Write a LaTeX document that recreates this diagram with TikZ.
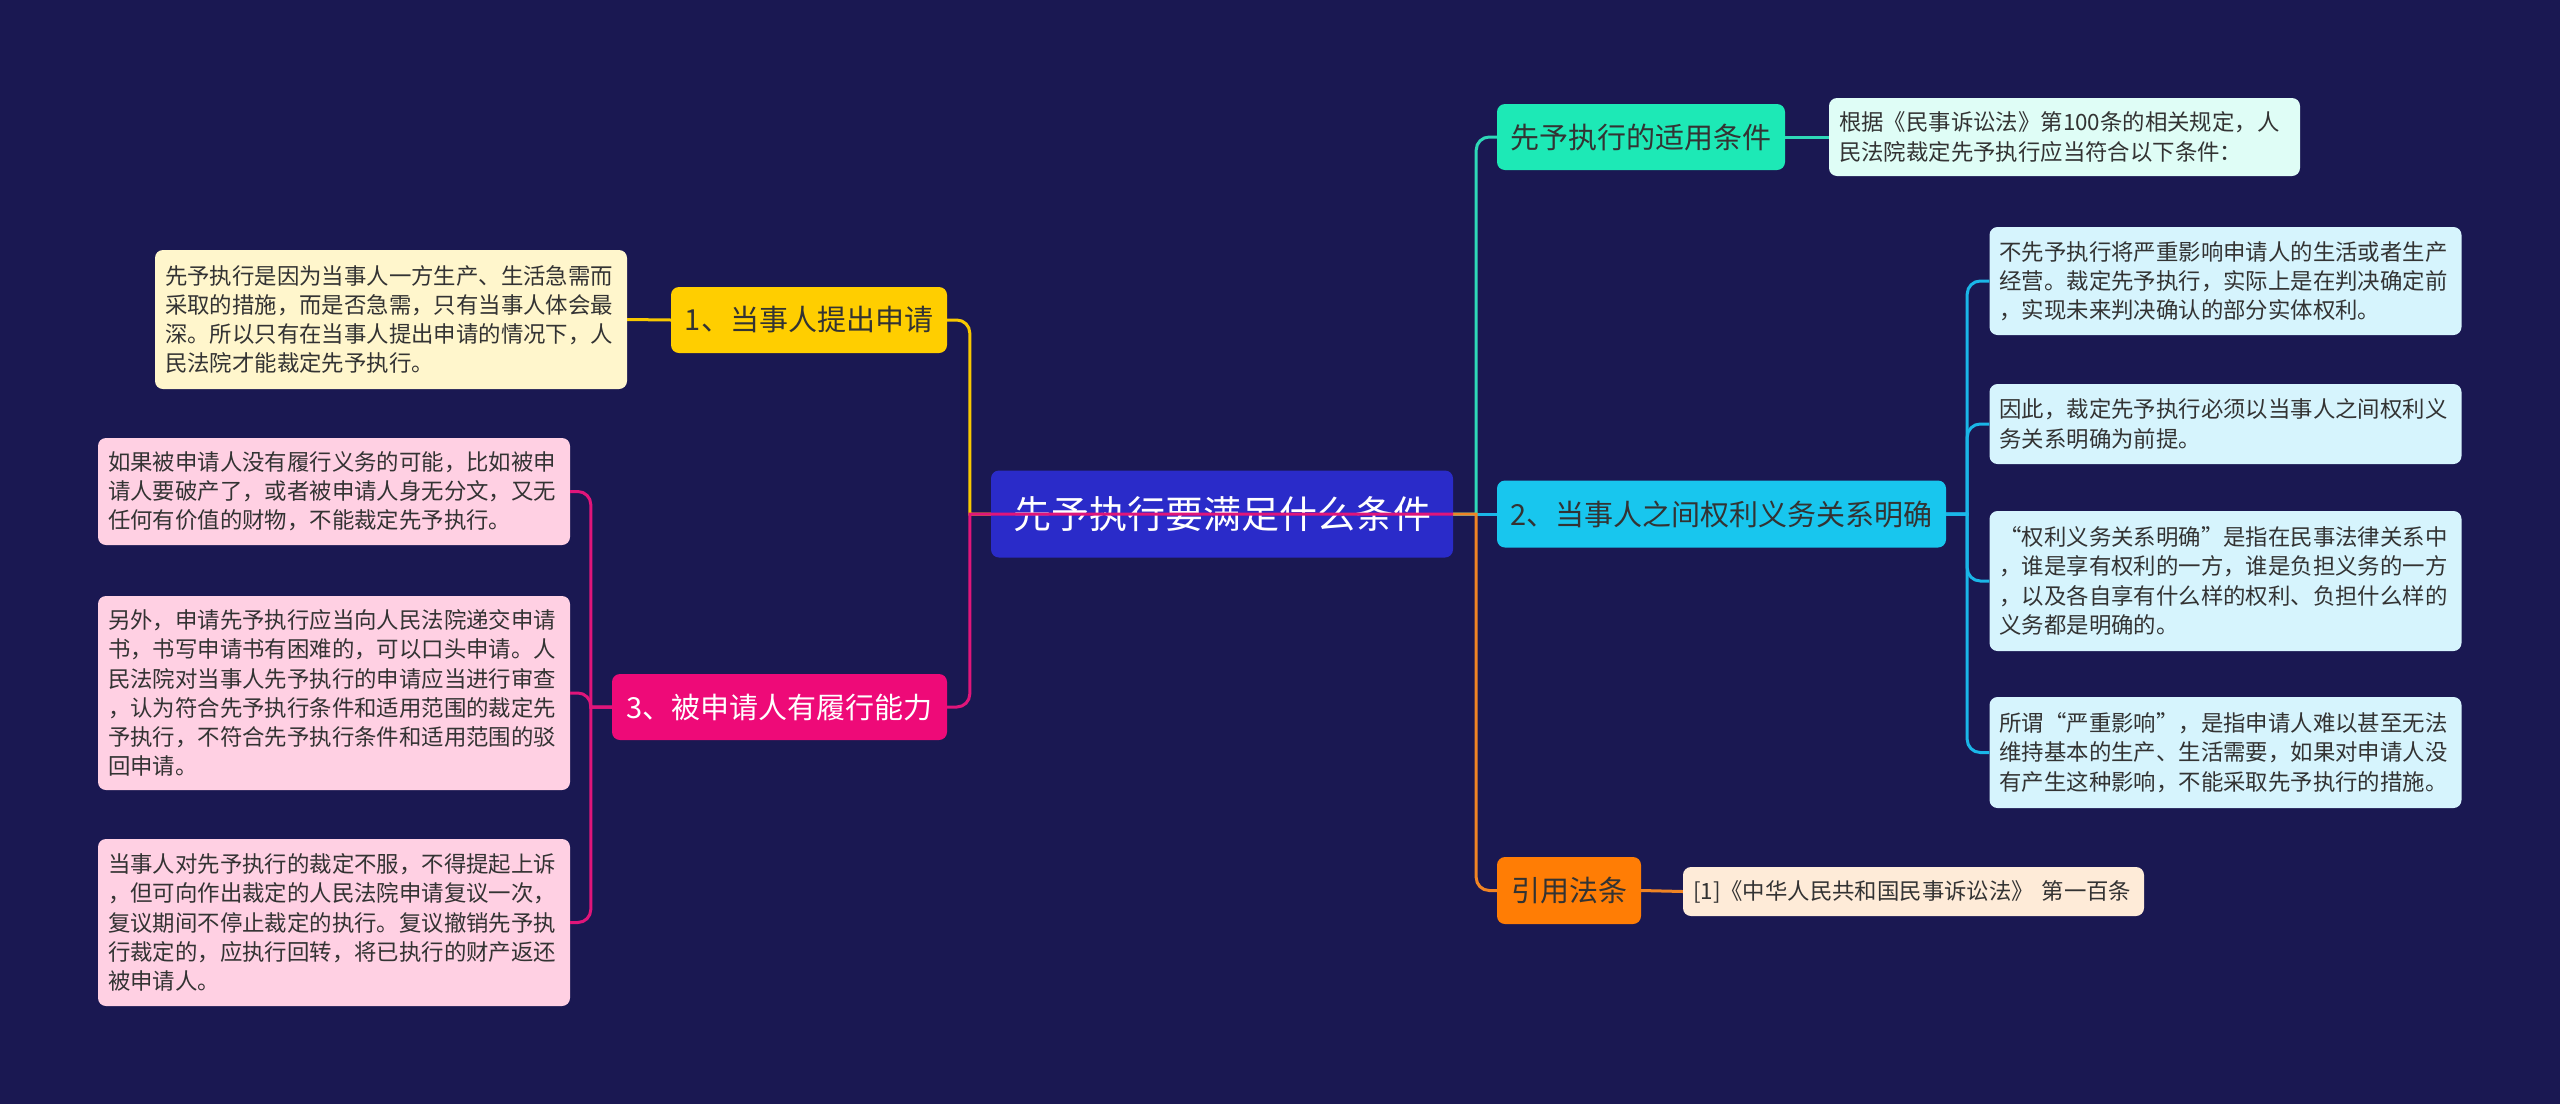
\documentclass[tikz,border=0pt]{standalone}
\usepackage{fontspec}
\setmainfont{Noto Sans CJK SC}
\definecolor{bg}{HTML}{1A1852}
\definecolor{rootc}{HTML}{2A2BC9}
\definecolor{tealc}{HTML}{1DE9B6}
\definecolor{tealleaf}{HTML}{DFFDF6}
\definecolor{tealln}{HTML}{2ED8B8}
\definecolor{cyanc}{HTML}{18C6EE}
\definecolor{cyanleaf}{HTML}{D6F4FD}
\definecolor{cyanln}{HTML}{1AB6E8}
\definecolor{orangec}{HTML}{FF7D05}
\definecolor{orangeleaf}{HTML}{FEEBD8}
\definecolor{orangeln}{HTML}{F08424}
\definecolor{yellowc}{HTML}{FFCE00}
\definecolor{yellowleaf}{HTML}{FFF6CC}
\definecolor{yellowln}{HTML}{F8C800}
\definecolor{magc}{HTML}{EE0A78}
\definecolor{pinkleaf}{HTML}{FFD0E3}
\definecolor{magln}{HTML}{E0157A}
\definecolor{txt}{HTML}{333333}
\tikzset{
  box/.style={rounded corners=8pt, inner sep=0pt, align=center},
  rootbox/.style={box, fill=rootc, text=white, font=\fontsize{38}{44}\selectfont},
  branch/.style={box, text=txt, font=\fontsize{29}{34}\selectfont},
  leaf/.style={rounded corners=8pt, inner xsep=10pt, inner ysep=0pt, text=txt,
     text width=452pt, align=left, minimum width=472pt,
     font=\fontsize{22.4}{29.2}\selectfont},
  ln/.style={line width=3pt},
}
\begin{document}
\begin{tikzpicture}[x=1pt,y=-1pt]
\useasboundingbox[fill=bg] (0,0) rectangle (2560,1104);

% root
\node[rootbox, minimum width=462pt, minimum height=87pt] (root) at (1222,514) {先予执行要满足什么条件};

% right branches
\node[branch, fill=tealc, minimum width=288pt, minimum height=66pt] (r1) at (1641,137) {先予执行的适用条件};
\node[leaf, fill=tealleaf, minimum width=471pt, text width=451pt, minimum height=78pt] (r1a) at (2064.5,137) {根据《民事诉讼法》第100条的相关规定，人\\民法院裁定先予执行应当符合以下条件：};

\node[branch, fill=cyanc, minimum width=449pt, minimum height=67pt] (r2) at (1721.5,514) {2、当事人之间权利义务关系明确};
\node[leaf, fill=cyanleaf, minimum height=108pt] (l1) at (2225.5,281) {不先予执行将严重影响申请人的生活或者生产\\经营。裁定先予执行，实际上是在判决确定前\\，实现未来判决确认的部分实体权利。};
\node[leaf, fill=cyanleaf, minimum height=80pt] (l2) at (2225.5,424) {因此，裁定先予执行必须以当事人之间权利义\\务关系明确为前提。};
\node[leaf, fill=cyanleaf, minimum height=140pt] (l3) at (2225.5,581) {“权利义务关系明确”是指在民事法律关系中\\，谁是享有权利的一方，谁是负担义务的一方\\，以及各自享有什么样的权利、负担什么样的\\义务都是明确的。};
\node[leaf, fill=cyanleaf, minimum height=111pt] (l4) at (2225.5,752.5) {所谓“严重影响”，是指申请人难以甚至无法\\维持基本的生产、生活需要，如果对申请人没\\有产生这种影响，不能采取先予执行的措施。};

\node[branch, fill=orangec, minimum width=144pt, minimum height=67pt] (r3) at (1569,890.5) {引用法条};
\node[leaf, fill=orangeleaf, minimum width=461pt, text width=441pt, minimum height=49pt] (r3a) at (1913.5,891.5) {[1]《中华人民共和国民事诉讼法》 第一百条};

% left branches
\node[branch, fill=yellowc, minimum width=276pt, minimum height=66pt] (b1) at (809,320) {1、当事人提出申请};
\node[leaf, fill=yellowleaf, minimum height=139pt] (b1a) at (391,319.5) {先予执行是因为当事人一方生产、生活急需而\\采取的措施，而是否急需，只有当事人体会最\\深。所以只有在当事人提出申请的情况下，人\\民法院才能裁定先予执行。};

\node[branch, fill=magc, text=white, minimum width=335pt, minimum height=66pt] (b3) at (779.5,707) {3、被申请人有履行能力};
\node[leaf, fill=pinkleaf, minimum height=107pt] (pa) at (334,491.5) {如果被申请人没有履行义务的可能，比如被申\\请人要破产了，或者被申请人身无分文，又无\\任何有价值的财物，不能裁定先予执行。};
\node[leaf, fill=pinkleaf, minimum height=194pt] (pb) at (334,693) {另外，申请先予执行应当向人民法院递交申请\\书，书写申请书有困难的，可以口头申请。人\\民法院对当事人先予执行的申请应当进行审查\\，认为符合先予执行条件和适用范围的裁定先\\予执行，不符合先予执行条件和适用范围的驳\\回申请。};
\node[leaf, fill=pinkleaf, minimum height=167pt] (pc) at (334,922.5) {当事人对先予执行的裁定不服，不得提起上诉\\，但可向作出裁定的人民法院申请复议一次，\\复议期间不停止裁定的执行。复议撤销先予执\\行裁定的，应执行回转，将已执行的财产返还\\被申请人。};

% connectors right
\draw[ln, tealln] (root.east) -- ++(23,0) [rounded corners=13pt] |- (r1.west);
\draw[ln, cyanln] (root.east) -- (r2.west);
\draw[ln, orangeln] (root.east) -- ++(23,0) [rounded corners=13pt] |- (r3.west);
\draw[ln, tealln] (r1.east) -- (r1a.west);
\draw[ln, orangeln] (r3.east) -- (r3a.west);
\draw[ln, cyanln] (r2.east) -- ++(21,0) [rounded corners=13pt] |- (l1.west);
\draw[ln, cyanln] (r2.east) -- ++(21,0) [rounded corners=13pt] |- (l2.west);
\draw[ln, cyanln] (r2.east) -- ++(21,0) [rounded corners=13pt] |- (l3.west);
\draw[ln, cyanln] (r2.east) -- ++(21,0) [rounded corners=13pt] |- (l4.west);

% connectors left
\draw[ln, yellowln] (root.west) -- ++(-21,0) [rounded corners=13pt] |- (b1.east);
\draw[ln, magln] (root.east) -- (root.west) -- ++(-21,0) [rounded corners=13pt] |- (b3.east);
\draw[ln, yellowln] (b1.west) -- (b1a.east);
\draw[ln, magln] (b3.west) -- ++(-21,0) [rounded corners=13pt] |- (pa.east);
\draw[ln, magln] (b3.west) -- ++(-21,0) [rounded corners=13pt] |- (pb.east);
\draw[ln, magln] (b3.west) -- ++(-21,0) [rounded corners=13pt] |- (pc.east);
\end{tikzpicture}
\end{document}
